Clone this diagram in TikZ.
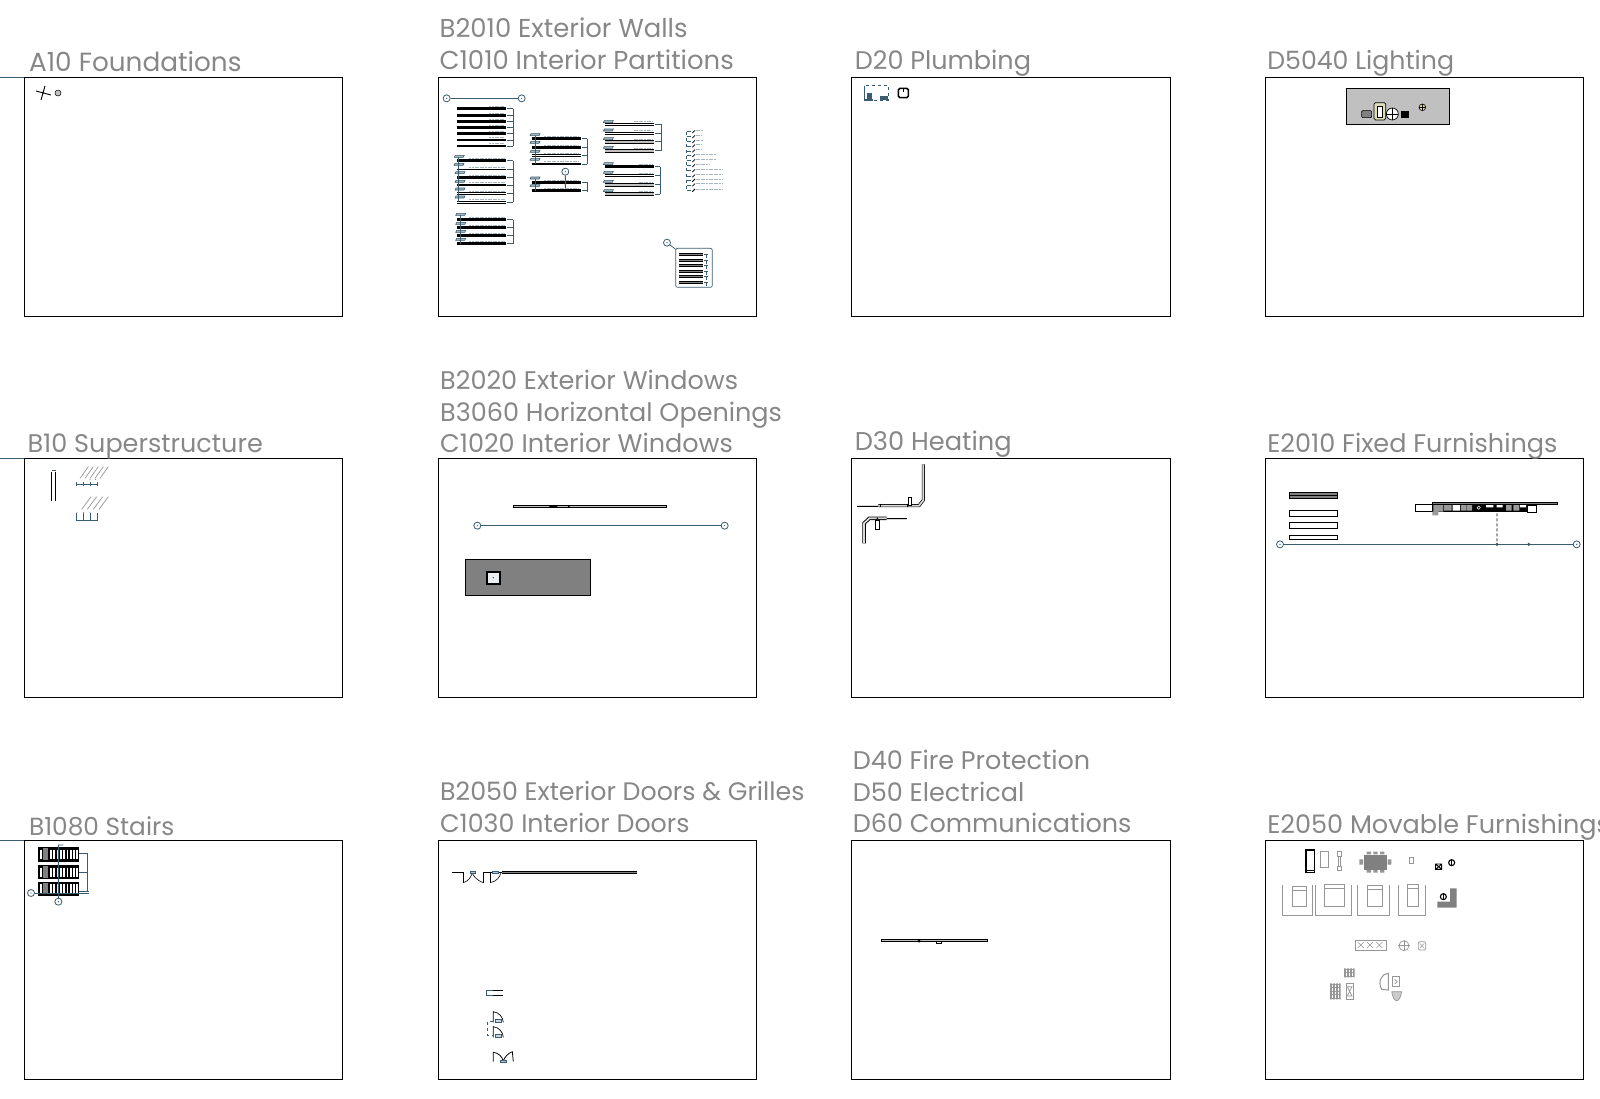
\documentclass[tikz,border=0pt]{standalone}
\usepackage{fontspec}
\setmainfont{Poppins}
\usepackage{xcolor}
\usetikzlibrary{arrows.meta,positioning,calc}
\definecolor{titlegray}{RGB}{135,135,135}
\definecolor{gridteal}{RGB}{58,92,112}
\definecolor{fillmid}{RGB}{128,128,128}
\definecolor{filllight}{RGB}{192,192,192}
\definecolor{lampbeige}{RGB}{225,220,190}
\definecolor{furngray}{RGB}{150,150,150}
\tikzset{
  panel/.style={rectangle, draw=black, line width=1pt, fill=white, outer sep=0pt,
                minimum width=318.5pt, minimum height=239pt},
  paneltitle/.style={anchor=base west, align=left, inner sep=0pt, text=titlegray,
                     font=\fontsize{#1}{31.6}\selectfont},
  paneltitle/.default=25.5,
  bubble/.style={circle, draw=gridteal, fill=white, line width=0.8pt, inner sep=0pt,
                 minimum size=7pt,
                 path picture={\fill[gridteal] (path picture bounding box.center) circle (0.7pt);}},
  gridline/.style={draw=gridteal, line width=0.7pt},
  smudge/.style={draw=gridteal!45, line width=0.5pt, dash pattern=on 2pt off 0.6pt},
  barblack/.style={draw=black, line width=2.8pt},
  barthin/.style={draw=black, line width=1.1pt},
  barwhite/.style={draw=black, line width=1pt, double=white, double distance=1pt},
  bargray/.style={draw=black, line width=0.9pt, double=filllight, double distance=2pt},
  barmid/.style={draw=black, line width=0.7pt, double=fillmid, double distance=1.5pt},
  outline/.style={draw=black, line width=0.7pt, fill=white},
  furn/.style={draw=furngray, line width=0.7pt, fill=white},
  pipe/.style={draw=black, line width=0.7pt, double=white!85!black, double distance=1.7pt},
  thinpipe/.style={draw=black, line width=0.6pt, double=white!85!black, double distance=0.8pt},
  tagmark/.pic={\draw[gridteal, line width=0.6pt, fill=gridteal!45] (-5,1) -- (-4,-1) -- (5,-1) -- (4,1) -- cycle;},
}
\begin{document}
\begin{tikzpicture}[x=1pt,y=-1pt,node distance=95.1pt]
  \useasboundingbox (0,0) rectangle (1600,1098);
  \clip (0,0) rectangle (1600,1098);
  % panels
  \node[panel, anchor=north west] (a10) at (24.4,77.4) {};
  \node[panel, right=of a10] (b2010) {};
  \node[panel, right=of b2010] (d20) {};
  \node[panel, right=of d20] (d5040) {};
  \node[panel, below=142.4pt of a10] (b10) {};
  \node[panel, right=of b10] (b2020) {};
  \node[panel, right=of b2020] (d30) {};
  \node[panel, right=of d30] (e2010) {};
  \node[panel, below=142.4pt of b10] (b1080) {};
  \node[panel, right=of b1080] (b2050) {};
  \node[panel, right=of b2050] (d40) {};
  \node[panel, right=of d40] (e2050) {};
  % titles
  \node[paneltitle=26.3] (ta10) at ($(a10.north west)+(4.5,-6)$) {A10 Foundations};
  \node[paneltitle=25.9] (tb2010) at ($(b2010.north west)+(1.5,-8)$) {B2010 Exterior Walls\\C1010 Interior Partitions};
  \node[paneltitle] (td20) at ($(d20.north west)+(3,-8)$) {D20 Plumbing};
  \node[paneltitle=25.2] (td5040) at ($(d5040.north west)+(2,-8)$) {D5040 Lighting};
  \node[paneltitle] (tb10) at ($(b10.north west)+(3,-6)$) {B10 Superstructure};
  \node[paneltitle] (tb2020) at ($(b2020.north west)+(2,-6)$) {B2020 Exterior Windows\\B3060 Horizontal Openings\\C1020 Interior Windows};
  \node[paneltitle=25.7] (td30) at ($(d30.north west)+(3,-8)$) {D30 Heating};
  \node[paneltitle] (te2010) at ($(e2010.north west)+(2,-6.5)$) {E2010 Fixed Furnishings};
  \node[paneltitle=24.8] (tb1080) at ($(b1080.north west)+(4.5,-5)$) {B1080 Stairs};
  \node[paneltitle=25.3] (tb2050) at ($(b2050.north west)+(2,-8)$) {B2050 Exterior Doors \& Grilles\\C1030 Interior Doors};
  \node[paneltitle] (td40) at ($(d40.north west)+(1,-7.5)$) {D40 Fire Protection\\D50 Electrical\\D60 Communications};
  \node[paneltitle] (te2050) at ($(e2050.north west)+(2,-6.5)$) {E2050 Movable Furnishings};
  % grid stubs on the left edge
  \foreach \p in {a10,b10,b1080} \draw[gridline] (\p.north west) -- ++(-24.4,0);
  % A10
  \draw[black, line width=0.9pt] (36,91) -- (51,95) (45,86) -- (41,100);
  \draw[black, line width=0.5pt, fill=filllight] (58,93) circle (3);
  % B10
  \begin{scope}[shift={(0,450)},scale=1/3]
    \draw[black, line width=0.6pt] (155,65) -- (155,152) (167,65) -- (167,152);
    \draw[gridline] (155,62) -- (167,62);
    \foreach \x in {240,255,270,285,300} \draw[furn] (\x,85) -- (\x+25,50);
    \foreach \x in {245,262,280,297} \draw[furn] (\x,178) -- (\x+28,140);
    \draw[gridline] (230,103) -- (291,103);
    \foreach \x in {230,250,270,291} \draw[gridline] (\x,97) -- (\x,109);
    \draw[gridline] (230,212) -- (291,212);
    \foreach \x in {230,250,270,291} \draw[gridline] (\x,190) -- (\x,212);
    \foreach \x/\y in {270/88,287/88,231/188,250/188,270/188} \fill[black] (\x,\y) circle (1.2pt);
  \end{scope}
  % B1080
  \begin{scope}[shift={(0,830)},scale=1/3]
    \foreach \y in {52,105,155} {
      \fill[black] (115,\y) rectangle (238,\y+43);
      \foreach \x in {120,150,160,170,180,190,200,210,220,228} \fill[white] (\x,\y+8) rectangle (\x+5,\y+36);
      \fill[fillmid] (128,\y+3) rectangle (145,\y+38);
    }
    \draw[gridline] (262,70) -- (262,185) (238,70) -- (262,70) (238,127) -- (262,127) (238,185) -- (268,185);
    \node[bubble] (s1) at (175,215) {};
    \node[bubble] (s2) at (93,189) {};
    \coordinate (s1top) at (175,45);
    \coordinate (s2end) at (268,189);
    \draw[gridline, line width=0.9pt] (s1) -- (s1top) -- ++(15,0);
    \draw[gridline, line width=0.9pt] (s2) -- (s2end);
  \end{scope}
  % B2010
  \begin{scope}[shift={(430,70)},scale=1/3]
    \node[bubble] (w1) at (50,85) {};
    \node[bubble] (w2) at (275,85) {};
    \draw[gridline] (w1) -- (w2);
    \foreach \lo/\hi/\br/\sm/\ya/\yb/\ys in {
      80/228/250/50/116/228/{116/barblack,137/barblack,155/barblack,173/barblack,191/barblack,210/barthin,228/barthin},
      82/228/250/110/272/396/{272/barblack,298/barthin,322/barblack,345/barblack,371/barwhite,396/barwhite},
      82/228/250/110/449/521/{449/barblack,473/barblack,497/barblack,521/barblack},
      305/452/472/110/206/282/{206/barblack,232/barblack,257/barwhite,282/barblack},
      305/452/473/110/338/365/{338/barblack,362/barblack},
      526/671/694/60/162/242/{162/barwhite,189/barwhite,215/bargray,242/bargray},
      526/671/690/45/290/372/{290/barblack,316/barwhite,344/bargray,372/bargray}}
    {
      \draw[gridline] (\br,\ya) -- (\br,\yb);
      \foreach \y/\kind in \ys {
        \draw[\kind] (\lo,\y) -- (\hi,\y);
        \draw[smudge] (\hi-\sm,\y-7) -- (\hi-4,\y-7);
        \draw[gridline] (\hi+4,\y) -- (\br,\y);
      }
    }
    \foreach \x/\y in {88/259,87/283,90/308,90/334,90/357,90/381,92/433,92/460,92/484,92/508,
                       315/194,315/217,315/244,315/268,315/324,315/347,
                       535/155,535/180,535/206,535/232,535/281,535/307,535/334,535/362}
      \pic at (\x,\y) {tagmark};
    \draw[gridline] (85,262) -- (85,396) (92,436) -- (92,521) (315,197) -- (315,282) (315,327) -- (315,362);
    % schedule list
    \draw[gridline, dashed] (770,185) -- (770,361);
    \foreach \y/\len in {185/22,200/20,215/22,228/20,243/18,257/60,272/60,287/42,302/80,318/80,331/80,345/80,361/80} {
      \draw[gridline] (770,\y) -- (782,\y);
      \draw[black, line width=0.8pt] (787,\y+4) -- (795,\y-4);
      \draw[smudge] (797,\y-4) -- ++(\len,0);
    }
    % wall legend
    \draw[gridline, rounded corners=2pt] (737,535) rectangle (847,652);
    \node[bubble] (w3) at (711,518) {};
    \coordinate (w3end) at (737,538);
    \draw[gridline] (w3) -- (w3end);
    \node[bubble] (w4) at (406,305) {};
    \coordinate (w4end) at (406,355);
    \draw[gridline, line width=0.9pt] (w4) -- (w4end);
    \foreach \y in {553,572,587,604,620,637} {
      \draw[barmid] (748,\y) -- (818,\y);
      \draw[gridline] (822,\y) -- (834,\y) (828,\y) -- (828,\y+10);
    }
  \end{scope}
  % B2020
  \begin{scope}[shift={(450,480)},scale=1/3]
    \draw[outline, fill=filllight] (190,76) rectangle (650,82);
    \fill[black] (298,76) rectangle (322,82) (354,76) rectangle (359,82);
    \node[bubble] (g1) at (82,137) {};
    \node[bubble] (g2) at (824,137) {};
    \draw[gridline] (g1) -- (g2);
    \draw[outline, fill=fillmid] (46,238) rectangle (421,346);
    \draw[black, line width=1.7pt, fill=gridteal!10] (110,275) rectangle (150,312);
    \draw[gridline] (130,293) circle (0.9pt);
  \end{scope}
  % B2050
  \begin{scope}[shift={(440,860)},scale=1/3]
    \draw[barmid, line width=0.7pt, double distance=1pt] (185,37) -- (592,37);
    \draw[black, line width=1pt] (37,37) -- (70,37) -- (70,68) (130,68) -- (130,37) -- (150,37) (150,68) -- (150,37) -- (185,37);
    \draw[black, line width=0.6pt] (70,68) .. controls (88,62) and (92,50) .. (97,40);
    \draw[black, line width=0.6pt] (130,68) .. controls (112,62) and (102,50) .. (97,40);
    \draw[black, line width=0.6pt] (150,68) .. controls (170,65) and (180,50) .. (182,40);
    \foreach \x in {98,166} \draw[gridline, fill=gridteal!35] (\x-8,34) rectangle (\x+8,41);
    \draw[black, line width=0.6pt] (160,392) -- (190,392) (160,406) -- (190,406);
    \draw[gridline] (158,392) -- (140,392) -- (140,406) -- (158,406);
    \foreach \y in {455,500} {
      \draw[black, line width=0.7pt] (160,\y+32) -- (160,\y) .. controls (178,\y+3) and (188,\y+15) .. (190,\y+32);
      \draw[gridline, fill=gridteal!25] (166,\y+24) rectangle (184,\y+31);
    }
    \draw[gridline, dashed] (158,483) -- (142,483) -- (142,525) -- (158,525);
    \draw[black, line width=0.8pt] (160,605) -- (160,577) .. controls (175,578) and (187,590) .. (190,604) .. controls (193,590) and (205,580) .. (217,575) -- (220,605);
    \draw[gridline, fill=gridteal!35] (181,600) rectangle (199,607);
  \end{scope}
  % D20
  \begin{scope}[shift={(850,80)},scale=1/3]
    \draw[gridline, dashed] (43,17) rectangle (115,60);
    \draw[gridline, line width=1.4pt] (44,17) -- (44,60) -- (68,60);
    \fill[gridteal] (51,40) rectangle (66,57);
    \fill[gridteal] (90,47) rectangle (114,60);
    \draw[black, line width=1.6pt, rounded corners=1.5pt] (145,25) rectangle (175,53);
    \draw[black, line width=0.8pt] (160,25) -- (160,36);
  \end{scope}
  % D30
  \begin{scope}[shift={(850,455)},scale=1/3]
    \draw[thinpipe] (22,152) -- (85,152);
    \draw[pipe] (85,152) -- (207,152) -- (220,135) -- (220,28);
    \draw[outline, line width=0.6pt] (175,127) rectangle (185,152);
    \draw[black, line width=0.6pt] (92,146) -- (92,156) (172,146) -- (172,156);
    \draw[thinpipe] (110,192) -- (172,192);
    \draw[pipe, line width=0.9pt] (42,265) -- (42,205) -- (58,190) -- (110,190);
    \draw[outline, line width=0.6pt] (77,195) rectangle (87,222);
    \draw[black, line width=0.6pt] (82,190) circle (1.5pt);
  \end{scope}
  % D40
  \begin{scope}[shift={(860,920)},scale=1/3]
    \draw[outline, fill=filllight] (65,59) rectangle (382,65);
    \fill[black] (172,59) -- (182,59) -- (177,69) -- cycle;
    \draw[outline] (229,65) rectangle (245,71);
  \end{scope}
  % D5040
  \begin{scope}[shift={(1270,80)},scale=1/3]
    \draw[outline, fill=filllight] (229,26) rectangle (538,132);
    \draw[black, line width=0.6pt, fill=fillmid, rounded corners=1pt] (275,92) rectangle (305,113);
    \draw[black, line width=0.7pt, fill=lampbeige, rounded corners=1.5pt] (312,68) rectangle (347,120);
    \draw[black, line width=0.6pt, fill=white] (321,78) rectangle (338,112);
    \draw[black, line width=0.7pt, fill=white] (367,102) circle (18);
    \draw[black, line width=0.6pt] (349,102) -- (385,102) (367,84) -- (367,120);
    \fill[black] (394,92) rectangle (416,113);
    \draw[black, line width=0.6pt, fill=lampbeige!80!yellow] (457,82) circle (10);
    \draw[black, line width=0.5pt] (447,82) -- (467,82) (457,72) -- (457,92);
  \end{scope}
  % E2010
  \begin{scope}[shift={(1270,480)},scale=1/3]
    \draw[outline, fill=fillmid] (58,38) rectangle (202,55);
    \draw[black, line width=0.5pt] (58,46) -- (202,46);
    \foreach \ya/\yb in {92/109,128/145,166/178} \draw[outline] (58,\ya) rectangle (202,\yb);
    \draw[outline] (436,73) rectangle (487,95);
    \fill[black] (487,73) rectangle (800,95);
    \draw[outline, fill=fillmid] (487,67) rectangle (862,73);
    \fill[filllight!80!black] (490,75) rectangle (520,95) (487,95) rectangle (505,106)
       (522,75) rectangle (545,92) (573,75) rectangle (588,92) (590,75) rectangle (606,92)
       (708,75) rectangle (725,92) (730,75) rectangle (748,92);
    \fill[white] (548,75) rectangle (570,92) (648,75) rectangle (670,82) (680,75) rectangle (698,82) (750,75) rectangle (768,82);
    \draw[white, line width=0.5pt] (626,83) circle (5pt);
    \draw[black, line width=1.4pt, fill=white] (772,75) rectangle (800,98);
    \node[bubble] (f1) at (30,193) {};
    \node[bubble] (f2) at (920,193) {};
    \draw[gridline] (f1) -- (f2);
    \node[circle, fill=gridteal, inner sep=0pt, minimum size=3.5pt] (f3) at (681,193) {};
    \node[circle, fill=gridteal, inner sep=0pt, minimum size=3.5pt] (f4) at (776,193) {};
    \coordinate (f5) at (681,100);
    \draw[black, line width=0.8pt, densely dashed] (f5) -- (f3);
  \end{scope}
  % E2050
  \begin{scope}[shift={(1270,840)},scale=1/3]
    \draw[outline, line width=1.5pt] (108,30) rectangle (134,97);
    \draw[black, line width=0.6pt] (112,90) -- (134,90);
    \draw[furn, line width=1pt] (152,34) rectangle (175,82);
    \draw[furn] (203,34) rectangle (215,48) (206,48) rectangle (212,78) (203,78) rectangle (215,92);
    \foreach \x in {290,310,330} \fill[furngray] (\x,35) rectangle (\x+13,43) (\x,90) rectangle (\x+13,98);
    \fill[furngray] (268,58) rectangle (279,74) (353,58) rectangle (364,74);
    \draw[draw=fillmid, fill=fillmid] (282,45) rectangle (350,88);
    \draw[furn] (418,52) rectangle (430,70);
    \draw[black, line width=0.9pt] (497,72) rectangle (515,88) (497,72) -- (515,88) (515,72) -- (497,88);
    \draw[black, line width=1.1pt, fill=white] (545,68) circle (9);
    \draw[black, line width=0.6pt] (545,58) -- (545,78);
    \foreach \xa/\xb/\ba/\bb/\yt in {37/128/67/110/139,137/245/163/224/133,262/358/292/338/135,385/466/413/445/133} {
      \draw[furn] (\xa,135) -- (\xa,226) -- (\xb,226) -- (\xb,135);
      \draw[furn] (\ba,\yt) rectangle (\bb,200);
      \draw[furn, line width=0.4pt] (\ba,\yt+12) -- (\bb,\yt+12);
    }
    \fill[fillmid] (540,145) -- (560,145) -- (560,203) -- (502,203) -- (502,185) -- (540,185) -- cycle;
    \draw[black, line width=1.1pt, fill=white] (520,170) circle (9);
    \draw[black, line width=0.6pt] (520,160) -- (520,180);
    \draw[furn] (255,300) rectangle (348,330);
    \foreach \x in {272,300,328} \draw[furn, line width=0.5pt] (\x-9,306) -- (\x+9,324) (\x+9,306) -- (\x-9,324);
    \draw[furn] (402,317) circle (15);
    \draw[furn] (385,317) -- (419,317) (402,300) -- (402,334);
    \draw[furn, rounded corners=1pt] (445,305) rectangle (467,330);
    \draw[furn, line width=0.5pt] (449,310) -- (463,325) (463,310) -- (449,325);
    \fill[furngray] (222,385) rectangle (254,412) (180,430) rectangle (212,478);
    \foreach \x in {188,196,204} \draw[white, line width=0.4pt, densely dotted] (\x,430) -- (\x,478);
    \foreach \x in {230,238,246} \draw[white, line width=0.4pt, densely dotted] (\x,385) -- (\x,412);
    \draw[furn, line width=1pt] (228,430) rectangle (250,478);
    \draw[furn] (232,440) -- (246,440) -- (232,468) -- (246,468) -- cycle;
    \draw[furn, line width=1pt] (355,400) .. controls (335,400) and (322,425) .. (335,448) -- (355,450) -- cycle;
    \draw[furn, line width=1pt] (368,410) rectangle (388,440);
    \draw[furn] (374,418) -- (382,425) -- (374,432);
    \draw[furn, fill=furngray!50] (365,455) -- (395,455) .. controls (392,475) and (385,482) .. (380,482) .. controls (372,482) and (368,470) .. (365,455);
  \end{scope}
\end{tikzpicture}
\end{document}
